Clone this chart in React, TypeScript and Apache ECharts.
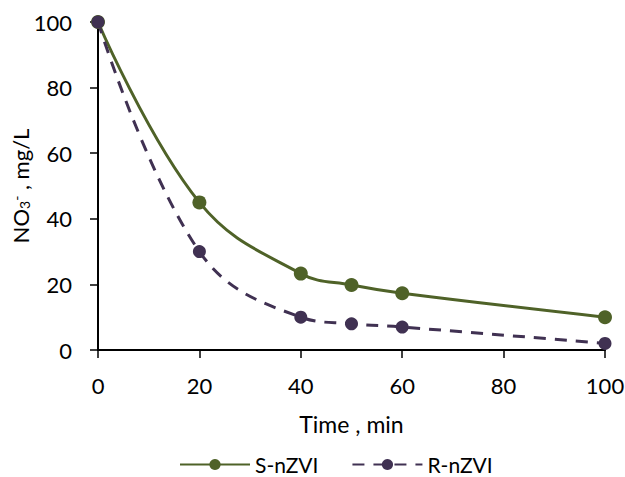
import React, { useEffect, useRef } from "react";
import * as echarts from "echarts";

const times = [0, 20, 40, 50, 60, 100];
const sNZVI = [100, 45, 23.3, 19.8, 17.3, 10];
const rNZVI = [100, 30, 10, 8, 7, 2];
const xTicks = [0, 20, 40, 60, 80, 100];
const seriesNames = ["S-nZVI", "R-nZVI"];

const FONT = "Lato, 'Open Sans', sans-serif";

export default function App() {
  const ref = useRef<HTMLDivElement>(null);
  useEffect(() => {
    if (!ref.current) return;
    const chart = echarts.init(ref.current, undefined, { renderer: "svg" });
    const pair = (vals: number[]) => times.map((t, i) => [t, vals[i]]);
    chart.setOption({
      animation: false,
      textStyle: { fontFamily: FONT, color: "#000" },
      grid: { left: 98, right: 20, top: 22, bottom: 127, containLabel: false, outerBoundsMode: "none" },
      xAxis: {
        type: "value",
        min: 0,
        max: 100,
        interval: 20,
        name: "Time , min",
        nameLocation: "middle",
        nameGap: 62,
        nameMoveOverlap: false,
        nameTextStyle: { fontSize: 23, color: "#000", fontFamily: FONT },
        axisLine: { show: true, onZero: false, lineStyle: { color: "#000", width: 2 } },
        axisTick: { show: true, inside: false, length: 8, lineStyle: { color: "#000", width: 1.5 } },
        axisLabel: {
          fontSize: 22,
          color: "#000",
          margin: 24,
          fontFamily: FONT,
          formatter: (v: number) => (xTicks.includes(v) ? String(v) : ""),
        },
        splitLine: { show: false },
      },
      yAxis: {
        type: "value",
        min: 0,
        max: 100,
        interval: 20,
        name: "NO{sub|3}{sup|-} , mg/L",
        nameLocation: "middle",
        nameGap: 67,
        nameMoveOverlap: false,
        nameRotate: 90,
        nameTextStyle: {
          fontSize: 22,
          color: "#000",
          fontFamily: FONT,
          rich: {
            sub: { fontSize: 14, verticalAlign: "bottom", padding: [6, 0, 0, 0], fontFamily: FONT, color: "#000" },
            sup: { fontSize: 14, verticalAlign: "top", padding: [0, 0, 6, 0], fontFamily: FONT, color: "#000" },
          },
        },
        axisLine: { show: true, lineStyle: { color: "#000", width: 2 } },
        axisTick: { show: true, inside: false, length: 8, lineStyle: { color: "#000", width: 1.5 } },
        axisLabel: { fontSize: 22, color: "#000", margin: 26, fontFamily: FONT },
        splitLine: { show: false },
      },
      legend: {
        top: 449,
        left: 174,
        itemWidth: 70,
        itemHeight: 14,
        itemGap: 33,
        textStyle: { fontSize: 21, color: "#000", fontFamily: FONT },
        data: seriesNames,
      },
      series: [
        {
          name: seriesNames[0],
          type: "line",
          data: pair(sNZVI),
          smooth: 0.4,
          symbol: "circle",
          symbolSize: 14,
          itemStyle: { color: "#4F6228" },
          lineStyle: { color: "#4F6228", width: 3 },
        },
        {
          name: seriesNames[1],
          type: "line",
          data: pair(rNZVI),
          smooth: 0.4,
          symbol: "circle",
          symbolSize: 13,
          itemStyle: { color: "#403152" },
          lineStyle: { color: "#403152", width: 3, type: [12, 9] },
        },
      ],
    });
    return () => chart.dispose();
  }, []);
  return <div ref={ref} style={{ width: 625, height: 477, position: "absolute", left: 0, top: 0 }} />;
}
